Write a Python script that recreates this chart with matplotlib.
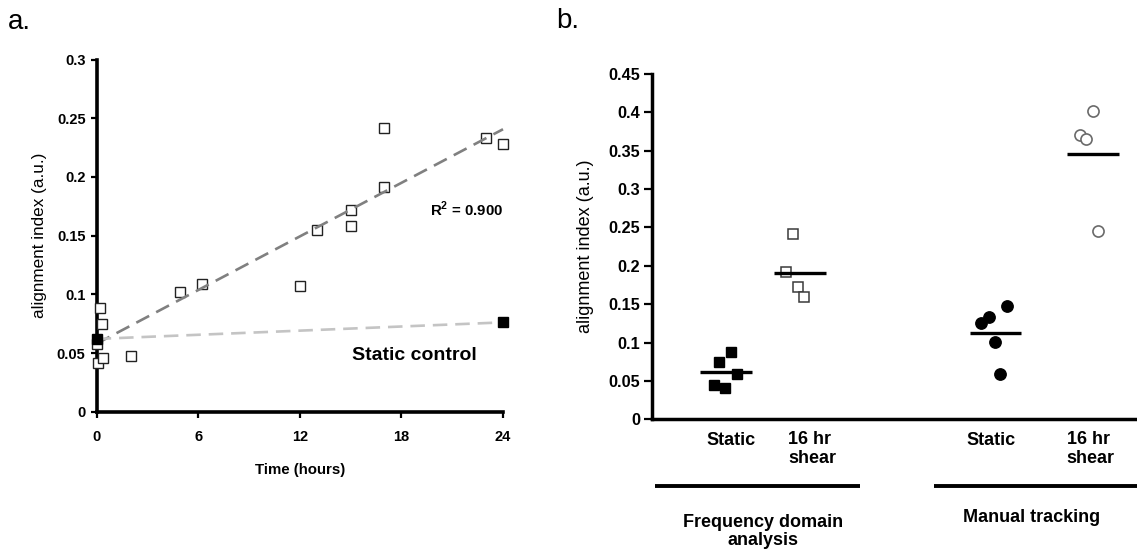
import matplotlib
matplotlib.use("Agg")
import matplotlib.pyplot as plt
import numpy as np

# ---------------- data: panel a ----------------
shear_time = [0.2, 0.3, 0.05, 0.1, 0.4, 2.0, 4.9, 6.25, 12.0, 13.0, 15.0, 15.0, 17.0, 17.0, 23.0, 24.0]
shear_align = [0.0884, 0.0746, 0.058, 0.0416, 0.046, 0.0474, 0.1016, 0.1085, 0.1071,
               0.1545, 0.1722, 0.1579, 0.1918, 0.2414, 0.2334, 0.2277]
static_time = [0.0, 24.0]
static_align = [0.062, 0.0761]
fit_time = [0.0, 24.0]
shear_fit = [0.058, 0.2406]
static_fit = [0.062, 0.0761]
a_xticks = [0, 6, 12, 18, 24]
a_yticks = [0, 0.05, 0.1, 0.15, 0.2, 0.25, 0.3]
a_ytick_labels = ["0", "0.05", "0.1", "0.15", "0.2", "0.25", "0.3"]

# ---------------- data: panel b ----------------
freq_static = [0.0882, 0.0743, 0.0591, 0.0452, 0.0404]
freq_shear = [0.2411, 0.1924, 0.1724, 0.159]
manual_static = [0.1472, 0.1333, 0.1251, 0.1008, 0.0591]
manual_shear = [0.4013, 0.3701, 0.3649, 0.245]
freq_static_jit = [0.068, -0.095, 0.145, -0.162, -0.014]
freq_shear_jit = [-0.099, -0.185, -0.023, 0.058]
manual_static_jit = [0.154, -0.095, -0.193, -0.004, 0.064]
manual_shear_jit = [-0.004, -0.185, -0.095, 0.068]
b_yticks = [0, 0.05, 0.1, 0.15, 0.2, 0.25, 0.3, 0.35, 0.4, 0.45]
b_ytick_labels = ["0", "0.05", "0.1", "0.15", "0.2", "0.25", "0.3", "0.35", "0.4", "0.45"]
cat_labels = ["Static", "16 hr\nshear", "Static", "16 hr\nshear"]
group_labels = ["Frequency domain\nanalysis", "Manual tracking"]

FONT = "Liberation Sans"
plt.rcParams["font.family"] = [FONT, "DejaVu Sans"]
plt.rcParams["mathtext.fontset"] = "custom"
plt.rcParams["mathtext.rm"] = "Liberation Sans"
plt.rcParams["mathtext.bf"] = "Liberation Sans:bold"

fig = plt.figure(figsize=(11.37, 5.53), dpi=100)

# ======================= panel a =======================
axa = fig.add_axes([0.0850, 0.2555, 0.3574, 0.6369])
axa.plot(shear_time, shear_align, ls="none", marker="s", ms=7.5, mfc="white",
         mec="#222222", mew=1.0, clip_on=False, zorder=4)
axa.plot(fit_time, shear_fit, ls=(0, (5.5, 3.0)), color="#808080", lw=1.9, zorder=5, clip_on=False)
axa.plot(fit_time, static_fit, ls=(0, (5.5, 3.0)), color="#c4c4c4", lw=1.9, zorder=5, clip_on=False)
axa.plot(static_time, static_align, ls="none", marker="s", ms=7.5, mfc="black",
         mec="black", clip_on=False, zorder=6)

axa.set_xlim(0, 24)
axa.set_ylim(0, 0.3)
axa.set_xticks(a_xticks)
axa.set_yticks(a_yticks)
axa.set_yticklabels(a_ytick_labels)
for s in ["top", "right"]:
    axa.spines[s].set_visible(False)
for s in ["left", "bottom"]:
    axa.spines[s].set_linewidth(2.6)
axa.tick_params(axis="y", direction="out", length=4.5, width=1.6, pad=3.5,
                labelsize=10.5)
axa.tick_params(axis="x", direction="out", length=4, width=1.6, pad=9,
                labelsize=10.5)
for lab in axa.get_xticklabels() + axa.get_yticklabels():
    lab.set_fontweight("bold")

axa.text(-0.1395, 0.5, "alignment index (a.u.)", rotation=90, ha="center", va="center",
         fontsize=12.3, transform=axa.transAxes)
axa.text(0.5, -0.166, "Time (hours)", ha="center", va="center", fontsize=10.8,
         fontweight="bold", transform=axa.transAxes)
axa.text(19.7, 0.172, r"R$^{\mathbf{2}}$ = 0.900", ha="left", va="center", fontsize=10.8,
         fontweight="bold")
axa.text(15.1, 0.0483, "Static control", ha="left", va="center", fontsize=14,
         fontweight="bold")

fig.text(8 / 1137, 1 - 22 / 553, "a.", fontsize=20, ha="left", va="center")
fig.text(556 / 1137, 1 - 21 / 553, "b.", fontsize=20, ha="left", va="center")

# ======================= panel b =======================
axb = fig.add_axes([0.5734, 0.2418, 0.4266, 0.6244])
centers = [1.0, 2.0, 4.64, 5.96]
groups = [freq_static, freq_shear, manual_static, manual_shear]
jits = [freq_static_jit, freq_shear_jit, manual_static_jit, manual_shear_jit]
styles = [
    dict(marker="s", ms=7.5, mfc="black", mec="black", mew=1.0),
    dict(marker="s", ms=7.8, mfc="white", mec="#3a3a3a", mew=1.1),
    dict(marker="o", ms=8.2, mfc="black", mec="black", mew=1.0),
    dict(marker="o", ms=8.0, mfc="white", mec="#6a6a6a", mew=1.2),
]
for c, vals, jit, st in zip(centers, groups, jits, styles):
    xs = [c + j for j in jit]
    axb.plot(xs, vals, ls="none", zorder=3, clip_on=False, **st)
    m = np.mean(vals)
    axb.plot([c - 0.35, c + 0.35], [m, m], color="black", lw=2.4, zorder=4,
             solid_capstyle="butt")

axb.set_xlim(0, 6.55)
axb.set_ylim(0, 0.45)
axb.set_yticks(b_yticks)
axb.set_yticklabels(b_ytick_labels)
axb.set_xticks([])
for s in ["top", "right"]:
    axb.spines[s].set_visible(False)
for s in ["left", "bottom"]:
    axb.spines[s].set_linewidth(2.5)
axb.tick_params(axis="y", direction="out", length=5.5, width=1.6, pad=3.0,
                labelsize=11.7)
for lab in axb.get_yticklabels():
    lab.set_fontweight("bold")
axb.text(-0.138, 0.5, "alignment index (a.u.)", rotation=90, ha="center", va="center",
         fontsize=13, transform=axb.transAxes)

# category labels
lab_x = [1.07, 1.84, 4.58, 5.60]
for i, (lx, txt) in enumerate(zip(lab_x, cat_labels)):
    if "\n" in txt:
        axb.text(lx, -0.0155, txt, ha="left", va="top", fontsize=13, fontweight="bold",
                 linespacing=1.15, clip_on=False)
    else:
        axb.text(lx, -0.027, txt, ha="center", va="center", fontsize=13,
                 fontweight="bold", clip_on=False)

# group bars and labels
bar_spans = [(0.04, 2.81), (3.81, 6.55)]
for (x0, x1) in bar_spans:
    axb.plot([x0, x1], [-0.0865, -0.0865], color="black", lw=2.8, clip_on=False,
             solid_capstyle="butt")
axb.text(1.50, -0.1235, group_labels[0], ha="center", va="top", fontsize=13,
         fontweight="bold", linespacing=1.05, multialignment="center", clip_on=False)
axb.text(5.12, -0.1175, group_labels[1], ha="center", va="top", fontsize=13,
         fontweight="bold", clip_on=False)

fig.savefig("out.png", dpi=100)
